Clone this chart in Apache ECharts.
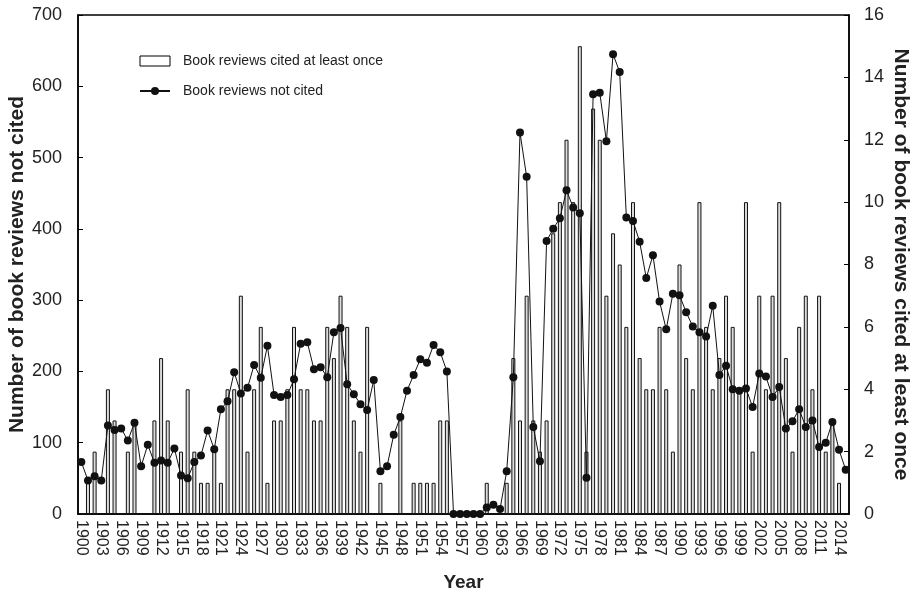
<!DOCTYPE html>
<html>
<head>
<meta charset="utf-8">
<script src="https://cdn.jsdelivr.net/npm/echarts@6/dist/echarts.min.js"></script>
<style>
  html, body { margin: 0; padding: 0; background: #fff; }
  #chart { width: 915px; height: 593px; }
</style>
</head>
<body>
<div id="chart"></div>
<script>
// years 1900 - 2015
var years = [];
for (var y = 1900; y <= 2015; y++) years.push(String(y));

// book reviews cited at least once (right axis)
var citedCounts = [
  0, 1, 2, 0, 4, 3, 0, 2, 3, 0,
  0, 3, 5, 3, 0, 2, 4, 2, 1, 1,
  2, 1, 4, 4, 7, 2, 4, 6, 1, 3,
  3, 4, 6, 4, 4, 3, 3, 6, 5, 7,
  6, 3, 2, 6, 0, 1, 0, 0, 3, 0,
  1, 1, 1, 1, 3, 3, 0, 0, 0, 0,
  0, 1, 0, 0, 1, 5, 3, 7, 3, 2,
  3, 9, 10, 12, 10, 15, 2, 13, 12, 7,
  9, 8, 6, 10, 5, 4, 4, 6, 4, 2,
  8, 5, 4, 10, 6, 4, 5, 7, 6, 4,
  10, 2, 7, 4, 7, 10, 5, 2, 6, 7,
  4, 7, 2, 3, 1, 0
];

// book reviews not cited (left axis)
var notCitedCounts = [
  73, 47, 53, 47, 124, 118, 120, 103, 128, 67,
  97, 72, 75, 72, 92, 54, 50, 73, 82, 117,
  91, 147, 158, 199, 169, 177, 209, 191, 236, 167,
  164, 167, 189, 239, 241, 203, 206, 192, 255, 261,
  182, 168, 154, 146, 188, 60, 67, 111, 136, 173,
  195, 217, 212, 237, 227, 200, 0, 0, 0, 0,
  0, 9, 13, 7, 60, 192, 535, 473, 122, 74,
  383, 400, 415, 454, 430, 422, 51, 589, 591, 523,
  645, 620, 416, 411, 382, 331, 363, 298, 259, 309,
  307, 283, 263, 255, 249, 292, 195, 208, 175, 173,
  176, 150, 197, 193, 164, 178, 120, 130, 147, 122,
  131, 94, 100, 129, 90, 62
];

var font = "Liberation Sans, Arial, sans-serif";

var option = {
    animation: false,
    textStyle: { fontFamily: font },
    grid: {
        left: 78,
        right: 66,
        top: 15,
        bottom: 79,
        outerBoundsMode: "none",
        show: true,
        borderColor: "#000",
        borderWidth: 1.5
    },
    legend: {
        orient: "vertical",
        left: 134,
        top: 49,
        itemWidth: 30,
        itemHeight: 10,
        itemGap: 16,
        textStyle: { fontFamily: font, fontSize: 14, color: "#222", padding: [0, 0, 0, 8] },
        data: [
            { name: "Book reviews cited at least once", icon: "rect",
              itemStyle: { color: "#fff", borderColor: "#000", borderWidth: 1 } },
            { name: "Book reviews not cited" }
        ]
    },
    xAxis: {
        type: "category",
        data: years,
        name: "Year",
        nameLocation: "middle",
        nameGap: 59,
        nameTextStyle: { fontFamily: font, fontSize: 19, fontWeight: "bold", color: "#222" },
        axisLine: { lineStyle: { color: "#000", width: 1.5 } },
        axisTick: { show: false },
        axisLabel: {
            interval: 2,
            rotate: -90,
            margin: 6,
            fontFamily: font,
            fontSize: 16,
            color: "#222"
        }
    },
    yAxis: [
        {
            type: "value",
            min: 0,
            max: 700,
            interval: 100,
            name: "Number of book reviews not cited",
            nameLocation: "middle",
            nameGap: 50,
            nameMoveOverlap: false,
            nameTextStyle: { fontFamily: font, fontSize: 21, fontWeight: "bold", color: "#222" },
            axisLine: { show: true, lineStyle: { color: "#000", width: 1.5 } },
            axisTick: { show: true, inside: true, length: 5, lineStyle: { color: "#000" } },
            axisLabel: { fontFamily: font, fontSize: 18, color: "#222", margin: 16 },
            splitLine: { show: false }
        },
        {
            type: "value",
            min: 0,
            max: 16,
            interval: 2,
            position: "right",
            name: "Number of book reviews cited at least once",
            nameLocation: "middle",
            nameRotate: -90,
            nameGap: 41,
            nameMoveOverlap: false,
            nameTextStyle: { fontFamily: font, fontSize: 21, fontWeight: "bold", color: "#222" },
            axisLine: { show: true, lineStyle: { color: "#000", width: 1.5 } },
            axisTick: { show: true, inside: true, length: 5, lineStyle: { color: "#000" } },
            axisLabel: { fontFamily: font, fontSize: 18, color: "#222", margin: 15 },
            splitLine: { show: false }
        }
    ],
    series: [
        {
            name: "Book reviews cited at least once",
            type: "bar",
            yAxisIndex: 1,
            data: citedCounts,
            barWidth: 4,
            itemStyle: { color: "#dcdcdc", borderColor: "#111", borderWidth: 1 },
            z: 1
        },
        {
            name: "Book reviews not cited",
            type: "line",
            yAxisIndex: 0,
            data: notCitedCounts,
            symbol: "circle",
            symbolSize: 8,
            showAllSymbol: true,
            lineStyle: { color: "#111", width: 1 },
            itemStyle: { color: "#111" },
            z: 3
        }
    ]
};

var myChart = echarts.init(document.getElementById("chart"));
myChart.setOption(option);
</script>
</body>
</html>
